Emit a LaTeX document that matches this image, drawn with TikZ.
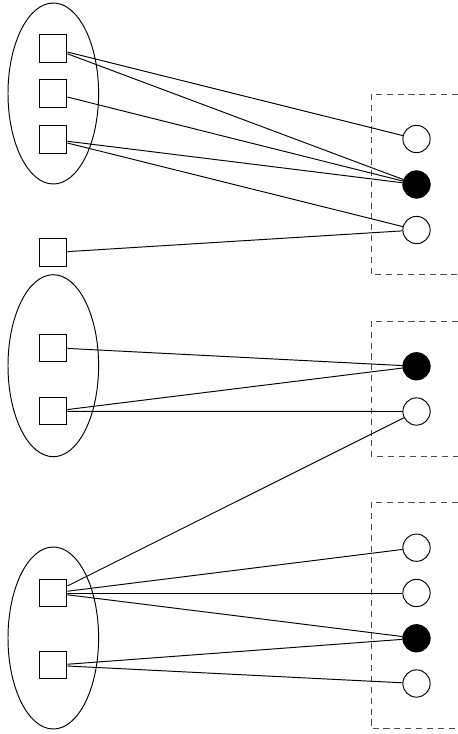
\documentclass[tikz,border=0pt]{standalone}
\usepackage{tikz}
\usetikzlibrary{calc}

\tikzset{
  box/.style = {draw, rectangle, inner sep = 0, minimum size = 0.6cm, line width = 0.6pt},
  dot/.style = {draw, circle, inner sep = 0, minimum size = 0.6cm, line width = 0.6pt},
  fulldot/.style = {dot, fill = black},
  group/.style = {draw = black!70, line width = 0.6pt, dash pattern = on 3.8pt off 3pt}
}

\begin{document}
\begin{tikzpicture}[x = 0.022cm, y = -0.022cm, line width = 0.6pt]
			\def\xl{53.3};
			\def\xr{416.5};
			\def\xd{371};
			\def\xe{458};

			\useasboundingbox (0,0) rectangle (\xe,734);

			% left side
			\begin{scope}
				\draw (\xl,93.5) ellipse [x radius = 45.3, y radius = 90.5];
				\draw (\xl,365.7) ellipse [x radius = 45.3, y radius = 91];
				\draw (\xl,638) ellipse [x radius = 45.3, y radius = 91];
			\end{scope}

			\node[box] (sq1) at (\xl,48.5) {};
			\node[box] (sq2) at (\xl,93.5) {};
			\node[box] (sq3) at (\xl,139.5) {};
			\node[box] (sq4) at (\xl,252.5) {};
			\node[box] (sq5) at (\xl,347.7) {};
			\node[box] (sq6) at (\xl,411.3) {};
			\node[box] (sq7) at (\xl,593) {};
			\node[box] (sq8) at (\xl,665.3) {};

			% right side
			\begin{scope}[group]
				\draw (\xe,94) -- (\xd,94) -- (\xd,274.3) -- (\xe,274.3);
				\draw (\xe,321) -- (\xd,321) -- (\xd,456) -- (\xe,456);
				\draw (\xe,502.3) -- (\xd,502.3) -- (\xd,728.7) -- (\xe,728.7);
			\end{scope}

			\node[dot] (a1) at (\xr,139) {};
			\node[fulldot] (a2) at (\xr,184.5) {};
			\node[dot] (a3) at (\xr,230) {};
			\node[fulldot] (b1) at (\xr,366.3) {};
			\node[dot] (b2) at (\xr,411.5) {};
			\node[dot] (c1) at (\xr,547.7) {};
			\node[dot] (c2) at (\xr,593) {};
			\node[fulldot] (c3) at (\xr,638.3) {};
			\node[dot] (c4) at (\xr,683.5) {};

			% links
			\foreach \s/\t in {sq1/a1, sq1/a2, sq2/a2, sq3/a2, sq3/a3, sq4/a3,
				sq5/b1, sq6/b1, sq6/b2, sq7/b2,
				sq7/c1, sq7/c2, sq7/c3, sq8/c3, sq8/c4}
				\draw (\s) -- (\t);
		\end{tikzpicture}
\end{document}
